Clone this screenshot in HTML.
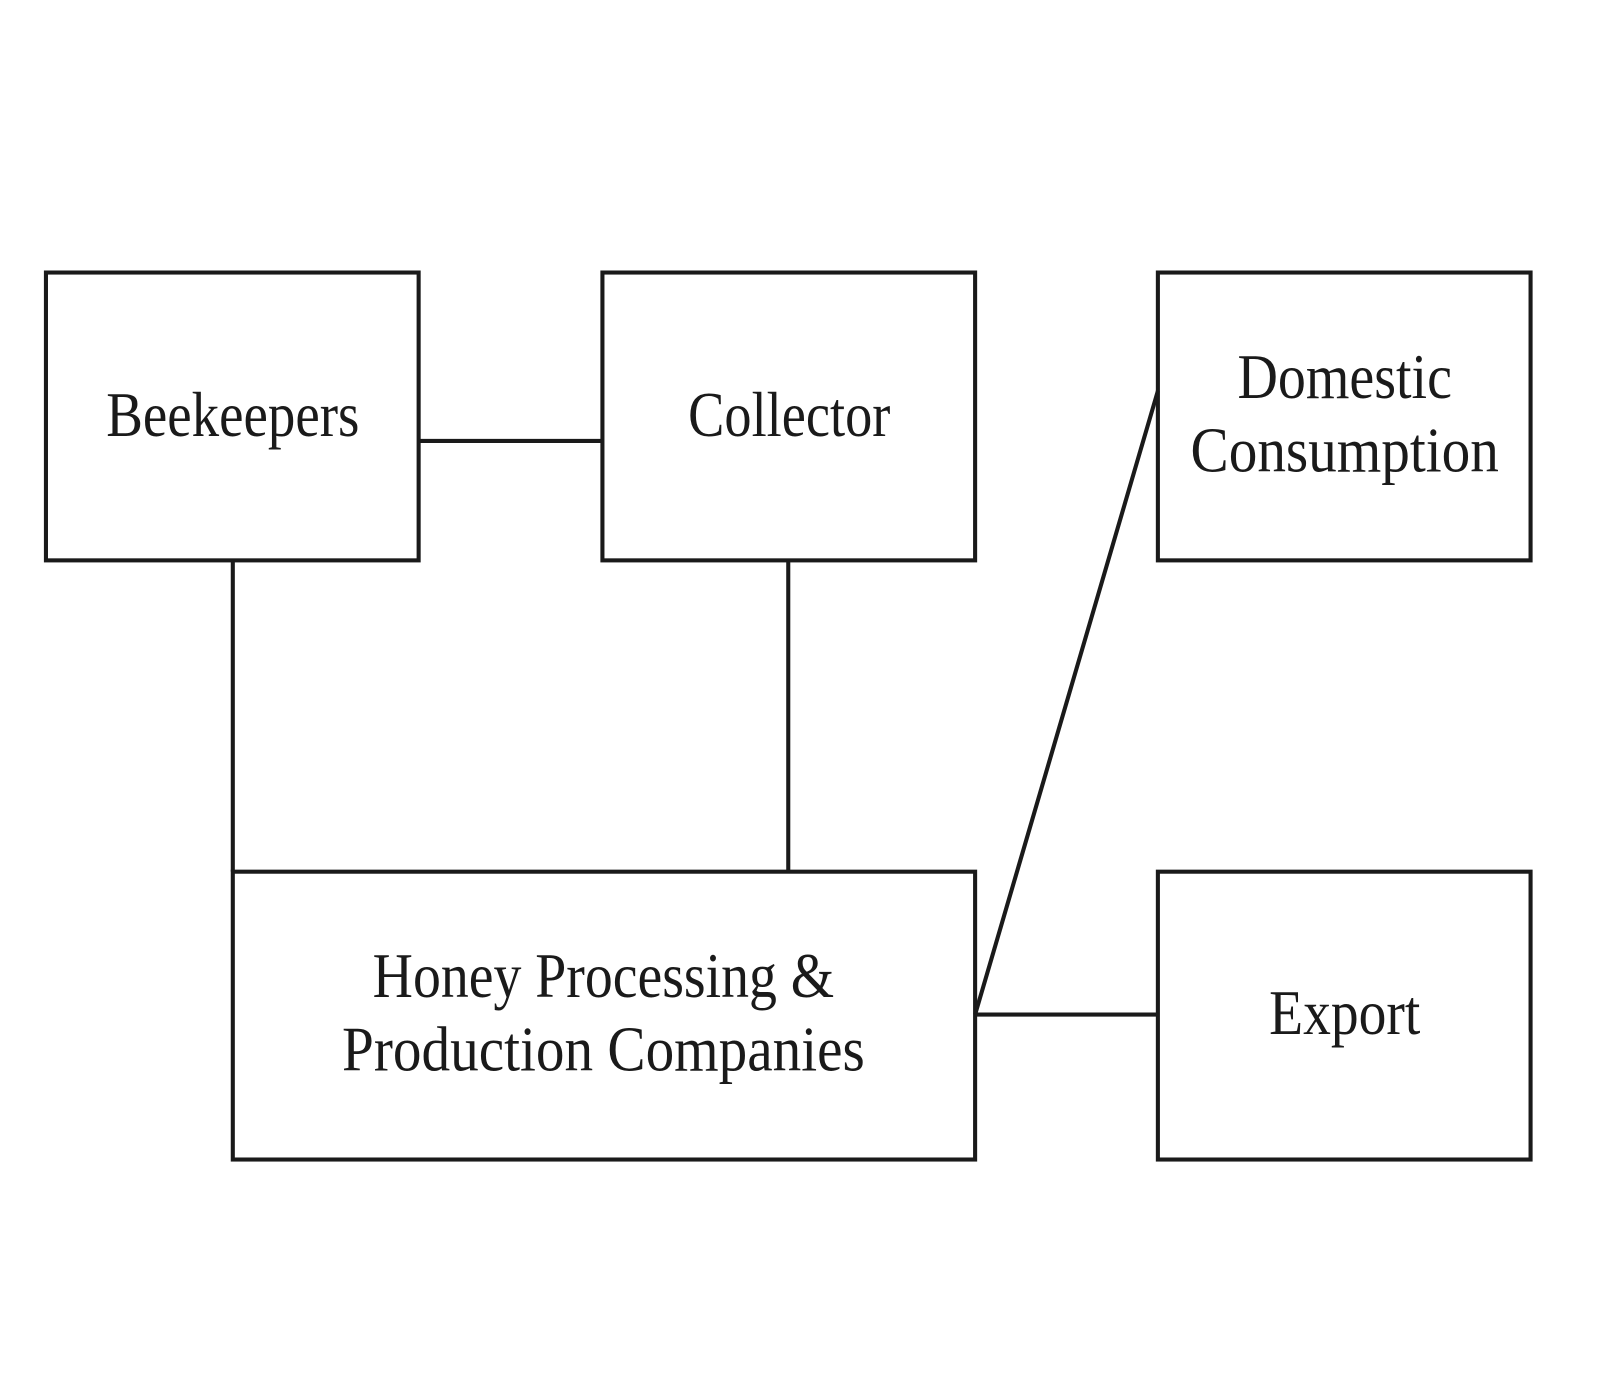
<!DOCTYPE html>
<html><head><meta charset="utf-8"><style>
html,body{margin:0;padding:0;background:#fff;}
svg{display:block;}
text{font-family:"Liberation Serif",serif;font-size:62px;fill:#1a1a1a;}
</style></head><body>
<svg width="1600" height="1380" viewBox="0 0 1567 1352" preserveAspectRatio="none" xmlns="http://www.w3.org/2000/svg">
<g fill="none" stroke="#1a1a1a" stroke-width="4">
<rect x="45" y="267" width="365" height="282"/>
<rect x="590" y="267" width="365" height="282"/>
<rect x="1134" y="267" width="365" height="282"/>
<rect x="228" y="854" width="727" height="282"/>
<rect x="1134" y="854" width="365" height="282"/>
<line x1="410" y1="432" x2="590" y2="432"/>
<line x1="228" y1="549" x2="228" y2="854"/>
<line x1="772" y1="549" x2="772" y2="854"/>
<line x1="1134" y1="383" x2="955" y2="994"/>
<line x1="955" y1="994" x2="1134" y2="994"/>
</g>
<text x="104" y="427" textLength="248" lengthAdjust="spacingAndGlyphs">Beekeepers</text>
<text x="674" y="427" textLength="198" lengthAdjust="spacingAndGlyphs">Collector</text>
<text x="1212" y="390" textLength="210" lengthAdjust="spacingAndGlyphs">Domestic</text>
<text x="1166" y="462" textLength="302" lengthAdjust="spacingAndGlyphs">Consumption</text>
<text x="365" y="977" textLength="452" lengthAdjust="spacingAndGlyphs">Honey Processing &amp;</text>
<text x="335" y="1049" textLength="512" lengthAdjust="spacingAndGlyphs">Production Companies</text>
<text x="1243" y="1013" textLength="148" lengthAdjust="spacingAndGlyphs">Export</text>
</svg>
</body></html>
